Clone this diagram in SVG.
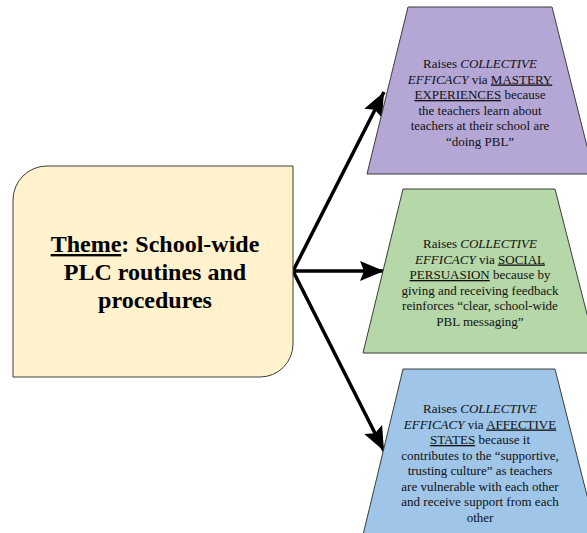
<svg xmlns="http://www.w3.org/2000/svg" width="587" height="533" viewBox="0 0 587 533">
  <defs>
    <style>
      .shape { stroke: #3c3c3c; stroke-width: 1; }
      .theme-text { font-family: "Liberation Serif", "Times New Roman", serif; font-size: 24px; font-weight: bold; fill: #000; text-anchor: middle; }
      .box-text { font-family: "Liberation Serif", "Times New Roman", serif; font-size: 13px; fill: #111; text-anchor: middle; }
      .em { font-style: italic; }
      .ul { text-decoration: underline; }
      .link { stroke: #000; stroke-width: 3.5; fill: none; marker-end: url(#arrow); }
    </style>
    <marker id="arrow" markerUnits="userSpaceOnUse" markerWidth="26" markerHeight="22" refX="24" refY="11" orient="auto">
      <path d="M0,1 L24,11 L0,21 L4,11 Z" fill="#000"/>
    </marker>
  </defs>

  <rect width="587" height="533" fill="#ffffff"/>

  <!-- connectors from the theme box to the three outcomes -->
  <g id="connectors">
    <line class="link" x1="293" y1="271" x2="384" y2="92"/>
    <line class="link" x1="293" y1="271" x2="384" y2="271"/>
    <line class="link" x1="293" y1="271" x2="384" y2="451"/>
  </g>

  <!-- theme box -->
  <g id="theme">
    <path class="shape" fill="#fff2cc" d="M13,200 A34,34 0 0 1 47,166 H293 V344 A33,33 0 0 1 260,377 H13 Z"/>
    <text class="theme-text" x="155" y="252"><tspan class="ul">Theme</tspan>: School-wide</text>
    <text class="theme-text" x="155" y="280">PLC routines and</text>
    <text class="theme-text" x="155" y="308">procedures</text>
  </g>

  <!-- mastery experiences -->
  <g id="mastery">
    <path class="shape" fill="#b4a7d6" d="M408,7 H552 L594,174 H367 Z"/>
    <text class="box-text" x="480" y="68">Raises <tspan class="em">COLLECTIVE</tspan></text>
    <text class="box-text" x="480" y="83.5"><tspan class="em">EFFICACY</tspan> via <tspan class="ul">MASTERY</tspan></text>
    <text class="box-text" x="480" y="99"><tspan class="ul">EXPERIENCES</tspan> because</text>
    <text class="box-text" x="480" y="114.5">the teachers learn about</text>
    <text class="box-text" x="480" y="130">teachers at their school are</text>
    <text class="box-text" x="480" y="145.5">“doing PBL”</text>
  </g>

  <!-- social persuasion -->
  <g id="social">
    <path class="shape" fill="#b6d7a8" d="M403,189 H555 L597,353 H363 Z"/>
    <text class="box-text" x="480" y="248">Raises <tspan class="em">COLLECTIVE</tspan></text>
    <text class="box-text" x="480" y="263.5"><tspan class="em">EFFICACY</tspan> via <tspan class="ul">SOCIAL</tspan></text>
    <text class="box-text" x="480" y="279"><tspan class="ul">PERSUASION</tspan> because by</text>
    <text class="box-text" x="480" y="294.5">giving and receiving feedback</text>
    <text class="box-text" x="480" y="310">reinforces “clear, school-wide</text>
    <text class="box-text" x="480" y="325.5">PBL messaging”</text>
  </g>

  <!-- affective states -->
  <g id="affective">
    <path class="shape" fill="#9fc5e8" d="M403,369 H555 L597,535 H363 Z"/>
    <text class="box-text" x="480" y="413">Raises <tspan class="em">COLLECTIVE</tspan></text>
    <text class="box-text" x="480" y="428.5"><tspan class="em">EFFICACY</tspan> via <tspan class="ul">AFFECTIVE</tspan></text>
    <text class="box-text" x="480" y="444"><tspan class="ul">STATES</tspan> because it</text>
    <text class="box-text" x="480" y="459.5">contributes to the “supportive,</text>
    <text class="box-text" x="480" y="475">trusting culture” as teachers</text>
    <text class="box-text" x="480" y="490.5">are vulnerable with each other</text>
    <text class="box-text" x="480" y="506">and receive support from each</text>
    <text class="box-text" x="480" y="521.5">other</text>
  </g>
</svg>
